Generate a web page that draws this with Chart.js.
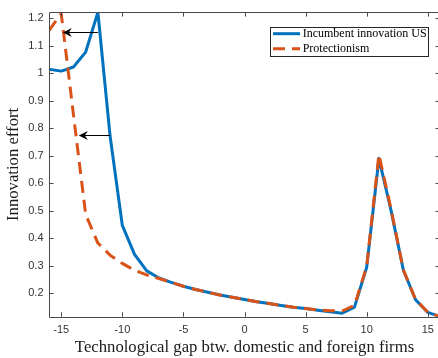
<!DOCTYPE html>
<html>
<head>
<meta charset="utf-8">
<script src="https://cdn.jsdelivr.net/npm/chart.js@4"></script>
<style>
  html, body { margin: 0; padding: 0; overflow: hidden; background: #fff; }
  canvas { display: block; }
</style>
</head>
<body>
<canvas id="c" width="442" height="358"></canvas>
<script>
// Technological gap (domestic minus foreign), one point per integer step
const gapValues = [-16, -15, -14, -13, -12, -11, -10, -9, -8, -7, -6, -5, -4, -3, -2, -1,
                   0, 1, 2, 3, 4, 5, 6, 7, 8, 9, 10, 11, 12, 13, 14, 15, 16];

// Innovation effort of the US incumbent
const incumbentUS = [1.015, 1.008, 1.023, 1.077, 1.222, 0.772, 0.447, 0.342, 0.282, 0.256,
                     0.240, 0.226, 0.214, 0.204, 0.194, 0.186, 0.178, 0.170, 0.163, 0.156,
                     0.150, 0.145, 0.139, 0.133, 0.128, 0.150, 0.295, 0.690, 0.500, 0.285,
                     0.177, 0.131, 0.116];

// Innovation effort under protectionism
const protectionism = [1.155, 1.218, 0.850, 0.487, 0.383, 0.339, 0.309, 0.284, 0.267, 0.254,
                       0.240, 0.226, 0.214, 0.204, 0.194, 0.186, 0.178, 0.170, 0.163, 0.156,
                       0.150, 0.145, 0.140, 0.137, 0.136, 0.156, 0.298, 0.705, 0.505, 0.285,
                       0.178, 0.131, 0.1155];

const xTickValues = [-15, -10, -5, 0, 5, 10, 15];
const yTickValues = [0.2, 0.3, 0.4, 0.5, 0.6, 0.7, 0.8, 0.9, 1.0, 1.1, 1.2];
const yTickLabels = ['0.2', '0.3', '0.4', '0.5', '0.6', '0.7', '0.8', '0.9', '1', '1.1', '1.2'];

// Arrows showing the leftward shift of the curve (gap from, gap to, effort level)
const arrowFrom = [-12.0, -11.0];
const arrowTo   = [-14.87, -13.56];
const arrowAt   = [1.15, 0.776];

const BLUE = '#0072BD';
const ORANGE = '#D95319';
const AXIS = '#4a4a4a';

const toPoints = (ys) => gapValues.map((g, i) => ({ x: g, y: ys[i] }));

// Box around the plot with inward tick marks on all four sides
const boxPlugin = {
  id: 'box',
  afterDatasetsDraw(chart) {
    const { ctx, chartArea: a, scales } = chart;
    const len = 4.5;
    ctx.save();
    ctx.strokeStyle = AXIS;
    ctx.lineWidth = 1;
    ctx.beginPath();
    ctx.rect(Math.round(a.left) + 0.5, Math.round(a.top) + 0.5,
             Math.round(a.right) - Math.round(a.left), Math.round(a.bottom) - Math.round(a.top));
    xTickValues.forEach(v => {
      const px = Math.round(scales.x.getPixelForValue(v)) + 0.5;
      ctx.moveTo(px, a.bottom); ctx.lineTo(px, a.bottom - len);
      ctx.moveTo(px, a.top); ctx.lineTo(px, a.top + len);
    });
    yTickValues.forEach(v => {
      const py = Math.round(scales.y.getPixelForValue(v)) + 0.5;
      ctx.moveTo(a.left, py); ctx.lineTo(a.left + len, py);
      ctx.moveTo(a.right, py); ctx.lineTo(a.right - len, py);
    });
    ctx.stroke();
    ctx.restore();
  }
};

// Horizontal annotation arrows
const arrowPlugin = {
  id: 'arrows',
  afterDatasetsDraw(chart) {
    const { ctx, scales } = chart;
    ctx.save();
    ctx.strokeStyle = '#000';
    ctx.fillStyle = '#000';
    ctx.lineWidth = 1;
    arrowFrom.forEach((x0v, i) => {
      const x0 = scales.x.getPixelForValue(x0v);
      const x1 = scales.x.getPixelForValue(arrowTo[i]);
      const y = Math.round(scales.y.getPixelForValue(arrowAt[i])) + 0.5;
      ctx.beginPath();
      ctx.moveTo(x0, y); ctx.lineTo(x1 + 6, y);
      ctx.stroke();
      ctx.beginPath();
      ctx.moveTo(x1, y);
      ctx.lineTo(x1 + 9, y - 4.5);
      ctx.lineTo(x1 + 6, y);
      ctx.lineTo(x1 + 9, y + 4.5);
      ctx.closePath();
      ctx.fill();
    });
    ctx.restore();
  }
};

// Legend box in the upper right corner of the plot
const legendPlugin = {
  id: 'boxLegend',
  afterDraw(chart) {
    const { ctx, chartArea: a } = chart;
    const right = a.right - 12.3, top = a.top + 15.3;
    const w = 157.7, h = 29.4;
    const left = right - w;
    ctx.save();
    ctx.fillStyle = '#fff';
    ctx.fillRect(left, top, w, h);
    ctx.strokeStyle = '#262626';
    ctx.lineWidth = 1;
    ctx.strokeRect(Math.round(left) + 0.5, Math.round(top) + 0.5, Math.round(w), Math.round(h));
    const rows = chart.data.datasets;
    rows.forEach((ds, i) => {
      const y = top + 6.3 + i * 15;
      ctx.strokeStyle = ds.borderColor;
      ctx.lineWidth = 3;
      ctx.setLineDash(ds.borderDash || []);
      ctx.beginPath();
      ctx.moveTo(left + 3, y);
      ctx.lineTo(left + 30, y);
      ctx.stroke();
      ctx.setLineDash([]);
      ctx.fillStyle = '#000';
      ctx.font = '12px "Liberation Serif"';
      ctx.textBaseline = 'middle';
      ctx.textAlign = 'left';
      ctx.fillText(ds.label, left + 32.7, y);
    });
    ctx.restore();
  }
};

new Chart(document.getElementById('c'), {
  type: 'line',
  data: {
    datasets: [
      {
        label: 'Incumbent innovation US',
        data: toPoints(incumbentUS),
        borderColor: BLUE,
        borderWidth: 3,
        pointRadius: 0,
        tension: 0,
        borderJoinStyle: 'round',
        order: 2
      },
      {
        label: 'Protectionism',
        data: toPoints(protectionism),
        borderColor: ORANGE,
        borderWidth: 3,
        borderDash: [12, 7],
        pointRadius: 0,
        tension: 0,
        borderJoinStyle: 'round',
        order: 1
      }
    ]
  },
  options: {
    responsive: false,
    animation: false,
    devicePixelRatio: 1,
    layout: { padding: { top: 7, right: 2, left: 0, bottom: 0 } },
    plugins: { legend: { display: false }, tooltip: { enabled: false } },
    scales: {
      x: {
        type: 'linear',
        min: -16,
        max: 16,
        grid: { display: false, drawTicks: false },
        border: { display: false },
        afterBuildTicks: (s) => { s.ticks = xTickValues.map(v => ({ value: v })); },
        afterFit: (s) => { s.height = 41.3; },
        ticks: {
          padding: 6.5,
          autoSkip: false,
          maxRotation: 0,
          color: '#333',
          font: { family: 'Liberation Sans', size: 11 },
          callback: (v) => String(v)
        },
        title: {
          display: true,
          text: 'Technological gap btw. domestic and foreign firms',
          color: '#1a1a1a',
          font: { family: 'Liberation Serif', size: 16.7 },
          padding: { top: 0, bottom: 0 }
        }
      },
      y: {
        type: 'linear',
        min: 0.1153,
        max: 1.2225,
        grid: { display: false, drawTicks: false },
        border: { display: false },
        afterBuildTicks: (s) => { s.ticks = yTickValues.map(v => ({ value: v })); },
        afterFit: (s) => { s.width = 49; },
        ticks: {
          padding: 5.5,
          autoSkip: false,
          color: '#333',
          font: { family: 'Liberation Sans', size: 11 },
          callback: (v, i) => yTickLabels[i]
        },
        title: {
          display: true,
          text: 'Innovation effort',
          color: '#1a1a1a',
          font: { family: 'Liberation Serif', size: 16.7 },
          padding: { top: 4, bottom: 0 }
        }
      }
    }
  },
  plugins: [boxPlugin, arrowPlugin, legendPlugin]
});
</script>
</body>
</html>
